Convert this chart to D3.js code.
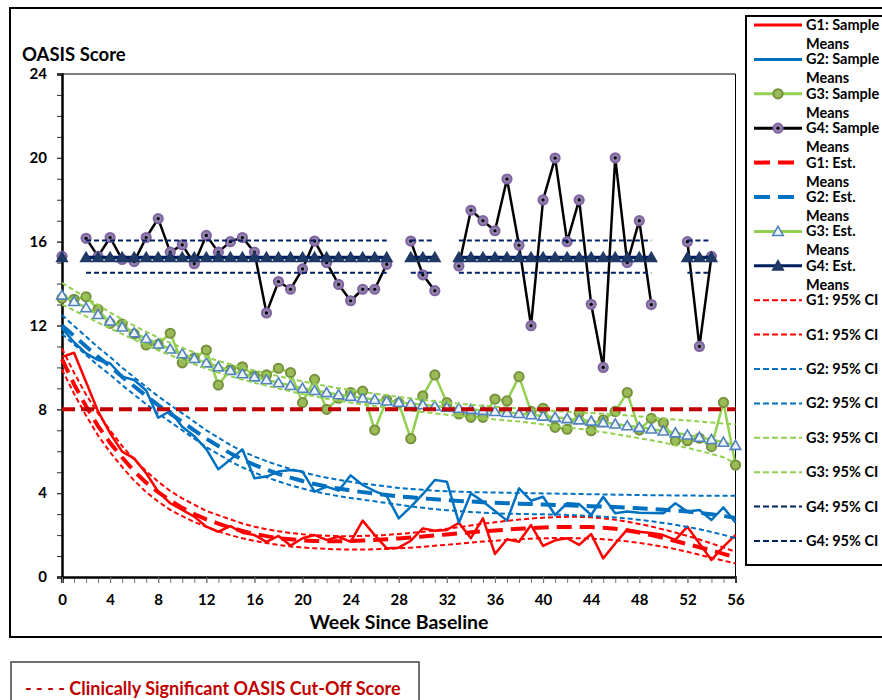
<!DOCTYPE html>
<html>
<head>
<meta charset="utf-8">
<script src="https://cdn.jsdelivr.net/npm/d3@7"></script>
<style>
  body { margin: 0; background: #fff; }
  svg text { font-family: Lato, "Open Sans", sans-serif; font-weight: bold; }
</style>
</head>
<body>
<svg id="chart" width="882" height="700"></svg>
<script>
// weeks since baseline
const weeks = [0,1,2,3,4,5,6,7,8,9,10,11,12,13,14,15,16,17,18,19,20,21,22,23,24,25,26,27,28,
  29,30,31,32,33,34,35,36,37,38,39,40,41,42,43,44,45,46,47,48,49,50,51,52,53,54,55,56];

// sample means
const g1Sample = [10.5, 10.7, 9.3, 7.9, 6.86, 5.98, 5.66, 4.95, 4.07, 3.52,
  3.2, 2.88, 2.4, 2.16, 2.43, 2.11, 2.0, 1.68, 1.96, 1.5,
  1.85, 2.0, 1.77, 1.92, 1.68, 2.69, 2.0, 1.37, 1.4, 1.73,
  2.32, 2.21, 2.24, 2.59, 1.85, 2.8, 1.1, 1.8, 1.68, 2.48,
  1.48, 1.75, 1.85, 1.53, 2.05, 0.89, 1.6, 2.27, 2.16, 2.1,
  2.0, 1.77, 2.4, 1.6, 0.81, 1.45, 2.0];
const g2Sample = [11.86, 11.2, 10.67, 10.35, 10.2, 9.56, 9.4, 8.9, 7.6, 7.92,
  7.17, 6.72, 6.1, 5.14, 5.6, 6.09, 4.71, 4.79, 5.03, 5.1,
  5.03, 4.07, 4.31, 4.12, 4.85, 4.39, 4.1, 3.86, 2.8, 3.35,
  3.95, 4.63, 4.55, 2.59, 3.99, 3.6, 3.15, 2.69, 4.23, 3.64,
  3.83, 2.96, 3.52, 3.48, 2.96, 3.83, 3.04, 3.12, 3.07, 3.05,
  3.04, 3.52, 3.12, 3.2, 2.72, 3.32, 2.6];
const g3Sample = [13.3, 13.25, 13.37, 12.77, 12.1, 12.07, 11.6, 11.07, 11.1, 11.63,
  10.22, 10.45, 10.83, 9.16, 9.9, 10.03, 9.6, 9.64, 9.96, 9.75,
  8.32, 9.43, 8.0, 8.53, 8.8, 8.87, 7.01, 8.45, 8.3, 6.6,
  8.64, 9.64, 8.32, 7.78, 7.62, 7.62, 8.49, 8.4, 9.56, 7.9,
  8.05, 7.14, 7.05, 7.84, 6.98, 7.5, 7.9, 8.8, 7.01, 7.57,
  7.36, 6.5, 6.5, 6.62, 6.22, 8.33, 5.34];
const g4Sample = [15.3, null, 16.16, 15.3, 16.2, 15.15, 15.05, 16.2, 17.1, 15.5,
  15.85, 14.95, 16.3, 15.5, 16.0, 16.2, 15.5, 12.6, 14.1, 13.73,
  14.7, 16.03, 15.0, 13.96, 13.18, 13.73, 13.73, 14.92, null, 16.03,
  14.42, 13.66, null, 14.84, 17.5, 17.0, 16.52, 18.99, 15.83, 11.99,
  17.99, 19.99, 16.0, 17.99, 13.01, 10.0, 20.0, 15.0, 17.0, 13.0,
  null, null, 16.0, 11.0, 15.3, null, null];

// estimated means
const g1Est = [10.4, 9.2, 8.15, 7.2, 6.4, 5.7, 5.05, 4.5, 4.05, 3.65,
  3.3, 3.0, 2.75, 2.55, 2.35, 2.2, 2.05, 1.95, 1.85, 1.8,
  1.75, 1.72, 1.7, 1.7, 1.72, 1.74, 1.77, 1.8, 1.84, 1.88,
  1.93, 1.98, 2.03, 2.08, 2.13, 2.18, 2.22, 2.26, 2.3, 2.33,
  2.36, 2.38, 2.39, 2.39, 2.38, 2.35, 2.3, 2.22, 2.12, 2.0,
  1.87, 1.72, 1.57, 1.42, 1.27, 1.1, 0.95];
const g2Est = [12.0, 11.5, 11.0, 10.5, 10.05, 9.55, 9.1, 8.65, 8.2, 7.8,
  7.4, 7.0, 6.6, 6.25, 5.9, 5.6, 5.35, 5.12, 4.92, 4.74,
  4.58, 4.44, 4.32, 4.22, 4.13, 4.05, 3.98, 3.91, 3.85, 3.8,
  3.75, 3.71, 3.67, 3.63, 3.6, 3.57, 3.54, 3.52, 3.5, 3.48,
  3.46, 3.44, 3.42, 3.4, 3.38, 3.36, 3.34, 3.31, 3.28, 3.25,
  3.21, 3.17, 3.12, 3.06, 2.99, 2.91, 2.82];
const g3Est = [13.45, 13.15, 12.85, 12.53, 12.22, 11.93, 11.65, 11.38, 11.12, 10.88,
  10.65, 10.43, 10.22, 10.03, 9.86, 9.7, 9.55, 9.41, 9.27, 9.14,
  9.01, 8.9, 8.8, 8.7, 8.62, 8.54, 8.47, 8.4, 8.34, 8.28,
  8.22, 8.16, 8.1, 8.05, 8.0, 7.95, 7.9, 7.85, 7.8, 7.74,
  7.68, 7.62, 7.56, 7.5, 7.44, 7.37, 7.3, 7.22, 7.14, 7.06,
  6.97, 6.88, 6.78, 6.67, 6.56, 6.43, 6.28];
const g4Est = [15.25, null, 15.25, 15.25, 15.25, 15.25, 15.25, 15.25, 15.25, 15.25,
  15.25, 15.25, 15.25, 15.25, 15.25, 15.25, 15.25, 15.25, 15.25, 15.25,
  15.25, 15.25, 15.25, 15.25, 15.25, 15.25, 15.25, 15.25, null, 15.25,
  15.25, 15.25, null, 15.25, 15.25, 15.25, 15.25, 15.25, 15.25, 15.25,
  15.25, 15.25, 15.25, 15.25, 15.25, 15.25, 15.25, 15.25, 15.25, 15.25,
  null, null, 15.25, 15.25, 15.25, null, null];

// 95% confidence limits
const g1Upper = [10.9, 9.75, 8.7, 7.8, 7.0, 6.25, 5.6, 5.05, 4.55, 4.1,
  3.75, 3.45, 3.15, 2.95, 2.75, 2.55, 2.4, 2.28, 2.18, 2.1,
  2.04, 2.0, 1.97, 1.95, 1.95, 1.96, 1.98, 2.01, 2.05, 2.1,
  2.16, 2.22, 2.3, 2.38, 2.46, 2.54, 2.61, 2.68, 2.74, 2.79,
  2.83, 2.86, 2.87, 2.87, 2.85, 2.8, 2.73, 2.64, 2.53, 2.41,
  2.27, 2.12, 1.96, 1.79, 1.6, 1.41, 1.2];
const g1Lower = [9.9, 8.75, 7.7, 6.75, 5.95, 5.25, 4.6, 4.05, 3.6, 3.2,
  2.9, 2.62, 2.4, 2.18, 2.0, 1.85, 1.72, 1.62, 1.53, 1.46,
  1.41, 1.37, 1.34, 1.32, 1.31, 1.31, 1.32, 1.34, 1.37, 1.4,
  1.44, 1.49, 1.54, 1.59, 1.64, 1.69, 1.73, 1.77, 1.8, 1.83,
  1.85, 1.86, 1.86, 1.85, 1.83, 1.8, 1.76, 1.7, 1.63, 1.54,
  1.44, 1.33, 1.2, 1.06, 0.92, 0.78, 0.65];
const g2Upper = [12.5, 11.98, 11.47, 10.96, 10.5, 9.99, 9.53, 9.07, 8.62, 8.21,
  7.81, 7.41, 7.0, 6.65, 6.3, 6.0, 5.75, 5.53, 5.33, 5.16,
  5.0, 4.86, 4.74, 4.63, 4.54, 4.46, 4.39, 4.32, 4.25, 4.2,
  4.16, 4.12, 4.09, 4.07, 4.05, 4.04, 4.03, 4.02, 4.01, 4.0,
  3.99, 3.98, 3.97, 3.96, 3.95, 3.94, 3.93, 3.92, 3.91, 3.9,
  3.9, 3.89, 3.89, 3.88, 3.88, 3.88, 3.88];
const g2Lower = [11.6, 11.1, 10.6, 10.1, 9.65, 9.15, 8.7, 8.25, 7.8, 7.4,
  7.0, 6.6, 6.2, 5.86, 5.52, 5.23, 4.98, 4.76, 4.56, 4.38,
  4.22, 4.08, 3.96, 3.86, 3.77, 3.69, 3.61, 3.53, 3.45, 3.37,
  3.3, 3.24, 3.19, 3.14, 3.1, 3.07, 3.04, 3.02, 3.01, 3.0,
  2.99, 2.98, 2.96, 2.94, 2.91, 2.88, 2.84, 2.79, 2.73, 2.66,
  2.58, 2.49, 2.39, 2.28, 2.15, 2.01, 1.85];
const g3Upper = [14.03, 13.68, 13.34, 12.98, 12.62, 12.3, 11.99, 11.7, 11.42, 11.17,
  10.94, 10.71, 10.5, 10.31, 10.15, 10.0, 9.85, 9.72, 9.58, 9.46,
  9.33, 9.22, 9.11, 9.01, 8.92, 8.83, 8.75, 8.67, 8.59, 8.52,
  8.45, 8.39, 8.32, 8.27, 8.22, 8.17, 8.12, 8.08, 8.04, 8.0,
  7.96, 7.92, 7.88, 7.85, 7.82, 7.79, 7.75, 7.71, 7.66, 7.61,
  7.56, 7.51, 7.47, 7.42, 7.37, 7.32, 7.28];
const g3Lower = [13.0, 12.72, 12.44, 12.14, 11.87, 11.6, 11.33, 11.07, 10.82, 10.59,
  10.36, 10.15, 9.94, 9.75, 9.58, 9.42, 9.27, 9.13, 8.99, 8.86,
  8.73, 8.62, 8.51, 8.41, 8.32, 8.24, 8.16, 8.08, 8.01, 7.94,
  7.87, 7.81, 7.74, 7.68, 7.63, 7.58, 7.52, 7.47, 7.42, 7.35,
  7.28, 7.21, 7.14, 7.07, 6.99, 6.91, 6.82, 6.72, 6.62, 6.52,
  6.41, 6.29, 6.16, 6.02, 5.87, 5.71, 5.43];
const g4Upper = [16.05, null, 16.05, 16.05, 16.05, 16.05, 16.05, 16.05, 16.05, 16.05,
  16.05, 16.05, 16.05, 16.05, 16.05, 16.05, 16.05, 16.05, 16.05, 16.05,
  16.05, 16.05, 16.05, 16.05, 16.05, 16.05, 16.05, 16.05, null, 16.05,
  16.05, 16.05, null, 16.05, 16.05, 16.05, 16.05, 16.05, 16.05, 16.05,
  16.05, 16.05, 16.05, 16.05, 16.05, 16.05, 16.05, 16.05, 16.05, 16.05,
  null, null, 16.05, 16.05, 16.05, null, null];
const g4Lower = [14.52, null, 14.52, 14.52, 14.52, 14.52, 14.52, 14.52, 14.52, 14.52,
  14.52, 14.52, 14.52, 14.52, 14.52, 14.52, 14.52, 14.52, 14.52, 14.52,
  14.52, 14.52, 14.52, 14.52, 14.52, 14.52, 14.52, 14.52, null, 14.52,
  14.52, 14.52, null, 14.52, 14.52, 14.52, 14.52, 14.52, 14.52, 14.52,
  14.52, 14.52, 14.52, 14.52, 14.52, 14.52, 14.52, 14.52, 14.52, 14.52,
  null, null, 14.52, 14.52, 14.52, null, null];

const cutOff = 8;

const yTickLabels = [0, 4, 8, 12, 16, 20, 24];
const xTickLabels = [0, 4, 8, 12, 16, 20, 24, 28, 32, 36, 40, 44, 48, 52, 56];
const legendLabels = ["G1: Sample Means", "G2: Sample Means", "G3: Sample Means", "G4: Sample Means",
  "G1: Est. Means", "G2: Est. Means", "G3: Est. Means", "G4: Est. Means",
  "G1: 95% CI", "G1: 95% CI", "G2: 95% CI", "G2: 95% CI",
  "G3: 95% CI", "G3: 95% CI", "G4: 95% CI", "G4: 95% CI"];

const RED = "#FF0000", BLUE = "#0070C0", GREEN = "#92D050", NAVY = "#002060";

// series in legend order, styles live here
let series = [
  {vals: g1Sample, color: RED, width: 2.5},
  {vals: g2Sample, color: BLUE, width: 2.5},
  {vals: g3Sample, color: GREEN, width: 2.5, marker: "circle", mStroke: "#76923C", mFill: "#9BBB59"},
  {vals: g4Sample, color: "#000", width: 2.5, marker: "circle", mStroke: "#8064A2", mFill: "#9283ad", dot: true},
  {vals: g1Est, color: RED, width: 4, dash: "15,8"},
  {vals: g2Est, color: BLUE, width: 4, dash: "15,8"},
  {vals: g3Est, color: GREEN, width: 2.5, marker: "triangle", mStroke: "#4F81BD", mFill: "#eef3fa"},
  {vals: g4Est, color: NAVY, width: 3.5, marker: "triangle", mStroke: "#1F3864", mFill: "#1F3864"},
  {vals: g1Upper, color: RED, width: 2, dash: "5,3"},
  {vals: g1Lower, color: RED, width: 2, dash: "5,3"},
  {vals: g2Upper, color: BLUE, width: 2, dash: "5,3"},
  {vals: g2Lower, color: BLUE, width: 2, dash: "5,3"},
  {vals: g3Upper, color: GREEN, width: 2, dash: "5,3"},
  {vals: g3Lower, color: GREEN, width: 2, dash: "5,3"},
  {vals: g4Upper, color: NAVY, width: 2, dash: "5,3"},
  {vals: g4Lower, color: NAVY, width: 2, dash: "5,3"}
];
series.forEach((s, i) => s.label = legendLabels[i]);

const svg = d3.select("#chart");

let x = d3.scaleLinear().domain([0, 56]).range([62, 735.5]);
let y = d3.scaleLinear().domain([0, 24]).range([577, 74]);

// outer frame + legend box
svg.append("rect").attr("x", 10).attr("y", 8).attr("width", 900).attr("height", 629)
   .attr("fill", "none").attr("stroke", "#000").attr("stroke-width", 2);
svg.append("rect").attr("x", 746).attr("y", 16).attr("width", 200).attr("height", 549)
   .attr("fill", "none").attr("stroke", "#000").attr("stroke-width", 2);

// plot box top/right
svg.append("path")
   .attr("d", `M${x(0)},${y(24)}H${x(56)}V${y(0)}`)
   .attr("fill", "none").attr("stroke", "#000").attr("stroke-width", 1);

// axes
let yMinor = d3.axisLeft(y).tickValues(d3.range(0, 25)).tickSize(5).tickFormat("");
let yMajor = d3.axisLeft(y).tickValues(yTickLabels).tickSize(5).tickPadding(10);
let xMinor = d3.axisBottom(x).tickValues(weeks).tickSize(6).tickFormat("");
let xMajor = d3.axisBottom(x).tickValues(xTickLabels).tickSize(6).tickPadding(8);

let gy = svg.append("g").attr("transform", `translate(${x(0)},0)`);
gy.call(yMinor);
gy.append("g").call(yMajor);
let gx = svg.append("g").attr("transform", `translate(0,${y(0)})`);
gx.call(xMinor);
gx.append("g").call(xMajor);

svg.selectAll(".domain").attr("stroke", "#000").attr("stroke-width", 2);
gy.selectAll(".tick line").attr("stroke", "#333");
gx.selectAll(".tick line").attr("stroke", "#777");
svg.selectAll(".tick text").attr("font-size", 15).attr("fill", "#000")
   .style("font-family", "Lato, sans-serif").style("font-weight", "bold");
gx.selectAll(".tick text").attr("dy", "0.9em");

svg.append("text").attr("x", 22).attr("y", 61).attr("font-size", 18.5).text("OASIS Score");
svg.append("text").attr("x", 399).attr("y", 629).attr("font-size", 19.5)
   .attr("text-anchor", "middle").text("Week Since Baseline");

// lines
let line = d3.line()
  .defined(d => d.v != null)
  .x(d => x(d.w))
  .y(d => y(d.v));

let tri = d3.symbol(d3.symbolTriangle, 48);

function drawMarkers(g, s, pts, cx, cy) {
  if (s.marker == "circle") {
    g.selectAll("circle.m").data(pts).enter().append("circle").attr("class", "m")
      .attr("cx", cx).attr("cy", cy).attr("r", 4.6)
      .attr("fill", s.mFill).attr("stroke", s.mStroke).attr("stroke-width", 2);
    if (s.dot) {
      g.selectAll("circle.d").data(pts).enter().append("circle").attr("class", "d")
        .attr("cx", cx).attr("cy", cy).attr("r", 1.6).attr("fill", "#000");
    }
  } else if (s.marker == "triangle") {
    g.selectAll("path.m").data(pts).enter().append("path").attr("class", "m")
      .attr("d", tri)
      .attr("transform", d => `translate(${cx(d)},${cy(d) + 1})`)
      .attr("fill", s.mFill).attr("stroke", s.mStroke).attr("stroke-width", 1.6);
  }
}

let plot = svg.append("g");
series.forEach(s => {
  let pts = weeks.map((w, i) => ({w: w, v: s.vals[i]}));
  let g = plot.append("g");
  g.append("path").datum(pts)
    .attr("d", line)
    .attr("fill", "none")
    .attr("stroke", s.color)
    .attr("stroke-width", s.width)
    .attr("stroke-dasharray", s.dash || null)
    .attr("stroke-linejoin", "round");
  drawMarkers(g, s, pts.filter(d => d.v != null), d => x(d.w), d => y(d.v));
});

// clinical cut-off
plot.append("line")
  .attr("x1", x(0)).attr("x2", x(56))
  .attr("y1", y(cutOff)).attr("y2", y(cutOff))
  .attr("stroke", "#C00000").attr("stroke-width", 4).attr("stroke-dasharray", "13,6");

// legend
let leg = svg.append("g");
series.forEach((s, i) => {
  let ly = 25 + i * 34.4;
  let g = leg.append("g");
  g.append("line").attr("x1", 754).attr("x2", 802).attr("y1", ly).attr("y2", ly)
    .attr("stroke", s.color)
    .attr("stroke-width", s.dash == "5,3" ? 2 : (s.dash ? 4 : 3))
    .attr("stroke-dasharray", s.dash == "15,8" ? "16,8" : (s.dash ? "6,3" : null));
  drawMarkers(g, s, [0], () => 778, () => ly);
  let parts = s.label.split(" Means");
  let t = g.append("text").attr("x", 806).attr("y", ly + 5).attr("font-size", 14.5);
  t.append("tspan").text(parts[0]);
  if (parts.length > 1) {
    t.append("tspan").attr("x", 806).attr("dy", 19).text("Means");
  }
});

// bottom legend for cut-off line
svg.append("rect").attr("x", 11).attr("y", 662).attr("width", 408).attr("height", 60)
   .attr("fill", "none").attr("stroke", "#404040").attr("stroke-width", 1.5);
svg.append("text").attr("x", 25).attr("y", 695).attr("font-size", 18).attr("fill", "#C00000")
   .text("- - - - Clinically Significant OASIS Cut-Off Score");
</script>
</body>
</html>
